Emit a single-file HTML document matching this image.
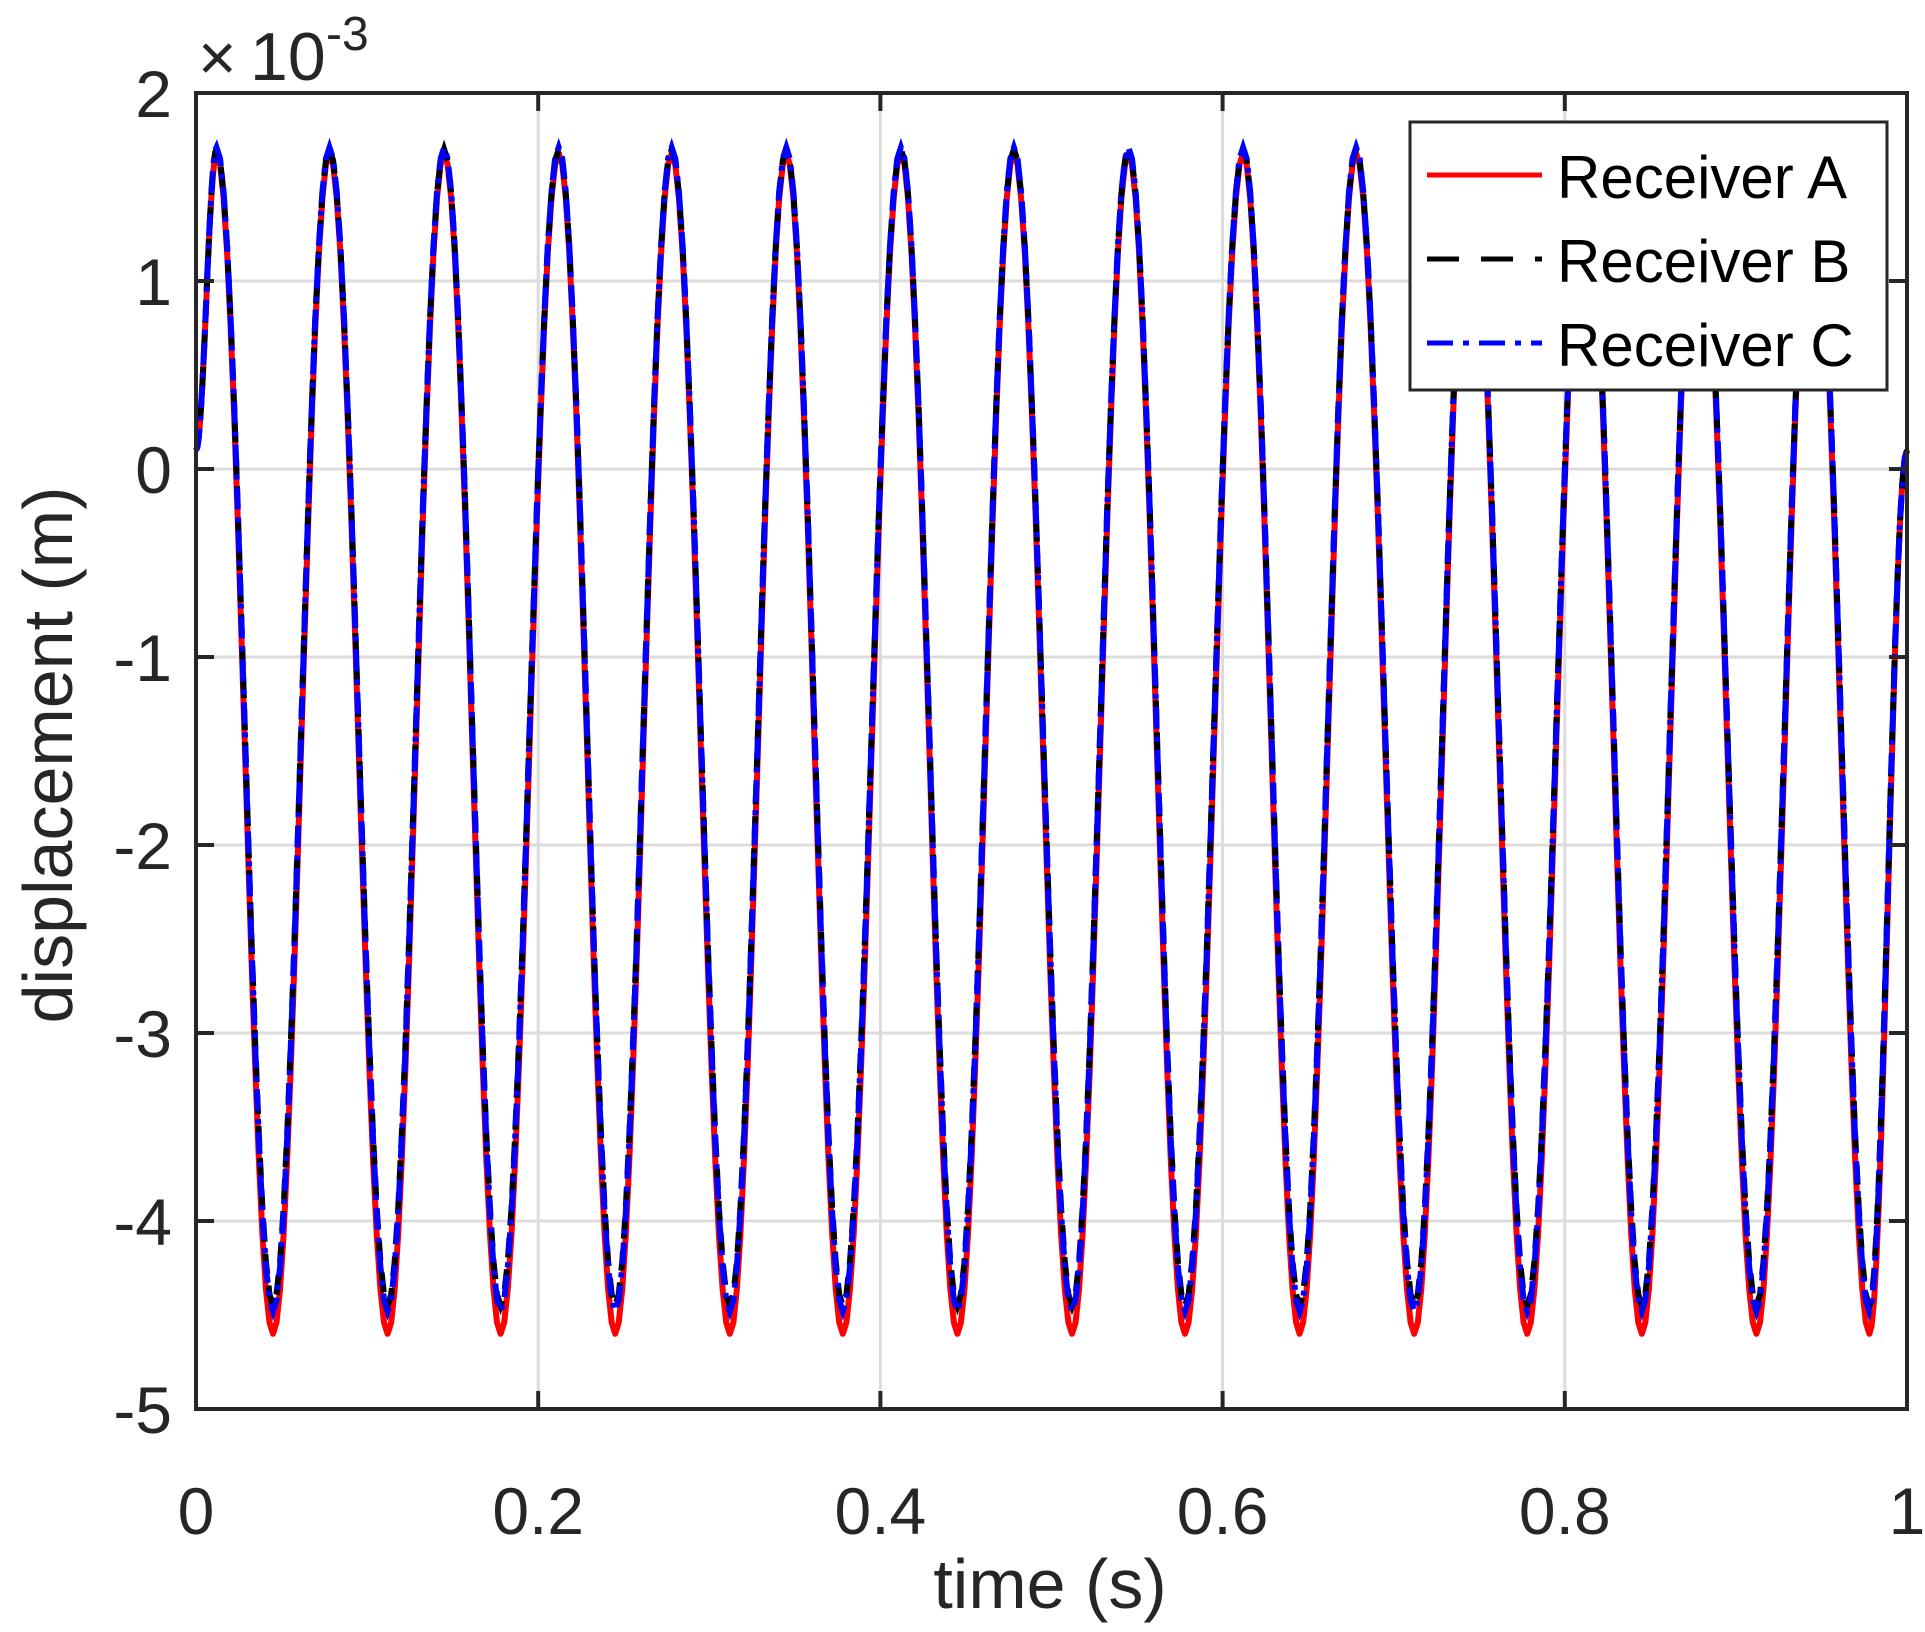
<!DOCTYPE html>
<html><head><meta charset="utf-8"><style>
html,body{margin:0;padding:0;background:#fff;}
svg{display:block;font-family:"Liberation Sans",Arial,sans-serif;}
</style></head><body>
<svg id="chart" width="1925" height="1632" viewBox="0 0 1925 1632" xmlns="http://www.w3.org/2000/svg">
<rect x="0" y="0" width="1925" height="1632" fill="#fff"/>
<g id="grid"></g>
<g id="series"></g>
<g id="axes"></g>
<text transform="translate(72,755) rotate(-90)" text-anchor="middle" font-size="70" fill="#262626">displacement (m)</text>
<text x="1050" y="1608" text-anchor="middle" font-size="70" fill="#262626">time (s)</text>
<g fill="#262626">
<text x="198" y="80" font-size="66">×</text>
<text x="250" y="80" font-size="68">10</text>
<text x="326" y="50" font-size="48">-3</text>
</g>
<g>
<rect x="1410" y="122" width="477" height="268" fill="#fff" stroke="#262626" stroke-width="3"/>
<line x1="1427" y1="175" x2="1542" y2="175" stroke="#ff0000" stroke-width="5"/>
<text x="1557" y="198" font-size="60" fill="#000">Receiver A</text>
<line x1="1427" y1="259" x2="1542" y2="259" stroke="#000" stroke-width="5" stroke-dasharray="32,22"/>
<text x="1557" y="282" font-size="60" fill="#000">Receiver B</text>
<line x1="1427" y1="343" x2="1542" y2="343" stroke="#0000ff" stroke-width="5" stroke-dasharray="26,10,6,10"/>
<text x="1557" y="366" font-size="60" fill="#000">Receiver C</text>
</g>
</svg>
<script>
const xTicks=[0,0.2,0.4,0.6,0.8,1];
const xTickLabels=["0","0.2","0.4","0.6","0.8","1"];
const yTicks=[2,1,0,-1,-2,-3,-4,-5];
const yTickLabels=["2","1","0","-1","-2","-3","-4","-5"];
const times=[0,0.012,0.045,0.078,0.112,0.145,0.178,0.212,0.245,0.278,0.312,0.345,0.378,0.412,0.445,0.478,0.512,0.545,0.578,0.612,0.645,0.678,0.712,0.745,0.778,0.812,0.845,0.878,0.912,0.945,0.978,1.0];
const receiverA=[0.1,1.68,-4.6,1.68,-4.6,1.68,-4.6,1.68,-4.6,1.68,-4.6,1.68,-4.6,1.68,-4.6,1.68,-4.6,1.68,-4.6,1.68,-4.6,1.68,-4.6,1.68,-4.6,1.68,-4.6,1.68,-4.6,1.68,-4.6,0.1];
const receiverB=[0.1,1.7,-4.45,1.7,-4.45,1.7,-4.45,1.7,-4.45,1.7,-4.45,1.7,-4.45,1.7,-4.45,1.7,-4.45,1.7,-4.45,1.7,-4.45,1.7,-4.45,1.7,-4.45,1.7,-4.45,1.7,-4.45,1.7,-4.45,0.1];
const receiverC=[0.1,1.71,-4.48,1.71,-4.48,1.71,-4.48,1.71,-4.48,1.71,-4.48,1.71,-4.48,1.71,-4.48,1.71,-4.48,1.71,-4.48,1.71,-4.48,1.71,-4.48,1.71,-4.48,1.71,-4.48,1.71,-4.48,1.71,-4.48,0.1];

const L=196,R=1907,T=93,B=1409;
const xS=v=>L+(v-0)/(1-0)*(R-L);
const yS=v=>T+(2-v)/(2-(-5))*(B-T);
const NS="http://www.w3.org/2000/svg";
function mk(tag,attrs,parent){const e=document.createElementNS(NS,tag);for(const k in attrs)e.setAttribute(k,attrs[k]);parent.appendChild(e);return e;}
const grid=document.getElementById('grid'),axes=document.getElementById('axes'),series=document.getElementById('series');
xTicks.forEach((v,i)=>{
  if(v>0&&v<1){const g=mk('line',{x1:xS(v),x2:xS(v),y1:T,y2:B,stroke:'#dcdcdc','stroke-width':3},grid);
  
  }
  const t=mk('line',{x1:xS(v),x2:xS(v),y1:B,y2:B-18,stroke:'#262626','stroke-width':4},axes);
  
  
  const tt=mk('line',{x1:xS(v),x2:xS(v),y1:T,y2:T+18,stroke:'#262626','stroke-width':4},axes);
  
  
  const lb=mk('text',{x:xS(v),y:1534,'text-anchor':'middle','font-size':66,fill:'#262626'},axes);
  lb.textContent=xTickLabels[i];
  
  
});
yTicks.forEach((v,i)=>{
  if(v<2&&v>-5){const g=mk('line',{x1:L,x2:R,y1:yS(v),y2:yS(v),stroke:'#dcdcdc','stroke-width':3},grid);
  
  }
  const t=mk('line',{x1:L,x2:L+18,y1:yS(v),y2:yS(v),stroke:'#262626','stroke-width':4},axes);
  
  
  const tr=mk('line',{x1:R,x2:R-18,y1:yS(v),y2:yS(v),stroke:'#262626','stroke-width':4},axes);
  
  
  const lb=mk('text',{x:172,y:yS(v)+24,'text-anchor':'end','font-size':66,fill:'#262626'},axes);
  lb.textContent=yTickLabels[i];
  
  
});
const frame=mk('rect',{x:L,y:T,width:R-L,height:B-T,fill:'none',stroke:'#262626','stroke-width':4},axes);


function pathFor(vals){
  let d='M'+xS(times[0]).toFixed(1)+','+yS(vals[0]).toFixed(1);
  const n=Math.min(times.length,vals.length);
  for(let i=1;i<n;i++){
    const t0=times[i-1],t1=times[i],a=vals[i-1],b=vals[i];
    for(let s=1;s<=16;s++){const f=s/16;const tt=t0+(t1-t0)*f;const vv=a+(b-a)*(1-Math.cos(Math.PI*f))/2;
      d+='L'+xS(tt).toFixed(1)+','+yS(vv).toFixed(1);}
  }
  return d;
}
const pa=mk('path',{d:pathFor(receiverA),fill:'none',stroke:'#ff0000','stroke-width':6,'stroke-linejoin':'round'},series);


const pb=mk('path',{d:pathFor(receiverB),fill:'none',stroke:'#000','stroke-width':6,'stroke-dasharray':'20,12'},series);


const pc=mk('path',{d:pathFor(receiverC),fill:'none',stroke:'#0000ff','stroke-width':6,'stroke-dasharray':'22,8,5,8'},series);


</script>
</body></html>
